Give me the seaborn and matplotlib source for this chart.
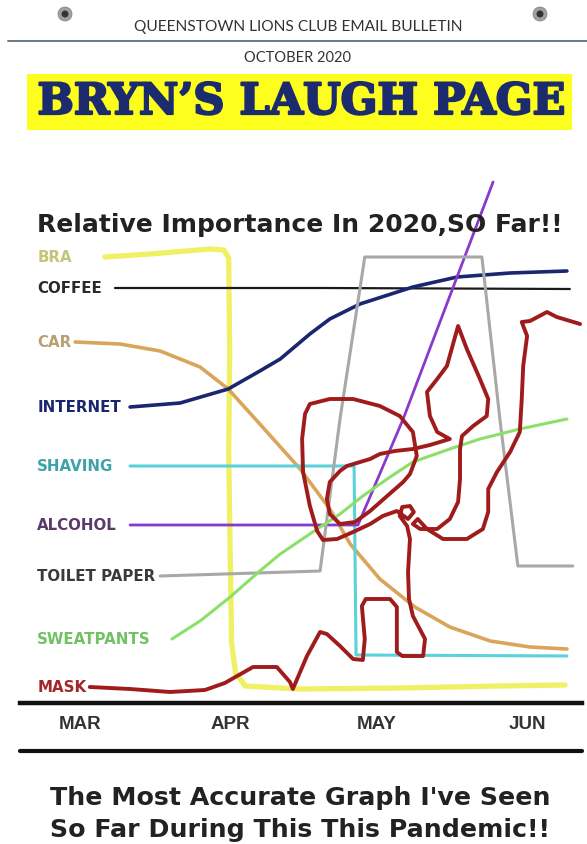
import matplotlib
matplotlib.use("Agg")
import matplotlib.pyplot as plt
import matplotlib.patheffects as pe
import seaborn as sns
from matplotlib.lines import Line2D
from matplotlib.patches import Rectangle, Ellipse

# ---------------- data (x: days since 1 March, y: relative importance) -------------
months = ["MAR", "APR", "MAY", "JUN"]
month_days = [0, 31, 61, 92]

bra_x = [5.1, 14.4, 26.7, 29.6, 30.6, 30.8, 30.6, 30.9, 31.2, 32.0, 34.0, 45.3, 65.8, 86.4, 99.8]
bra_y = [89.2, 89.8, 90.8, 90.6, 89.0, 70.0, 50.0, 30.0, 12.0, 6.0, 3.4, 2.8, 3.0, 3.4, 3.6]

coffee_x = [7.2, 50.0, 100.8]
coffee_y = [83.0, 83.0, 82.8]

car_x = [-1.0, 8.2, 16.5, 24.7, 30.5, 37.0, 45.3, 51.4, 55.6, 61.7, 68.9, 76.1, 84.4, 92.6, 100.2]
car_y = [72.2, 71.8, 70.4, 67.2, 62.8, 55.8, 46.8, 38.8, 31.8, 24.8, 19.2, 15.2, 12.4, 11.2, 10.8]

internet_x = [10.3, 20.6, 30.5, 37.0, 41.2, 47.3, 51.4, 57.6, 68.5, 77.6, 88.5, 100.2]
internet_y = [59.2, 60.0, 62.8, 66.4, 68.8, 73.8, 76.8, 79.8, 83.2, 85.2, 86.0, 86.4]

shaving_x = [10.3, 56.4, 56.8, 100.2]
shaving_y = [47.4, 47.4, 9.6, 9.4]

alcohol_x = [10.3, 57.2, 66.5, 85.0]
alcohol_y = [35.6, 35.6, 56.8, 104.2]

toilet_x = [16.5, 49.4, 53.5, 58.6, 82.7, 86.4, 90.1, 101.4]
toilet_y = [25.4, 26.4, 56.8, 89.2, 89.2, 56.8, 27.4, 27.4]

sweat_x = [18.9, 24.7, 30.9, 37.0, 41.2, 47.9, 53.5, 58.2, 63.8, 68.5, 76.1, 82.3, 90.5, 100.2]
sweat_y = [12.8, 16.4, 21.2, 26.4, 29.8, 34.2, 37.8, 41.4, 45.2, 48.2, 50.8, 52.8, 54.8, 56.8]

mask_x = [2.0, 10.3, 18.5, 25.7, 29.8, 35.6, 40.5, 43.2, 43.8, 46.7, 49.4, 50.8, 53.5, 56.2,
          58.2, 58.6, 58.0, 58.8, 63.8, 65.2, 65.2, 66.3, 70.6, 71.0, 68.5, 67.7, 67.5, 67.9,
          67.3, 65.8, 66.3, 67.9, 68.7, 67.5, 65.2, 62.3, 59.7, 56.2, 52.9, 50.0, 48.8, 47.3,
          45.9, 45.7, 46.3, 47.3, 51.4, 56.2, 61.7, 65.8, 68.5, 69.3, 67.9, 66.5, 63.2, 59.7,
          56.6, 53.5, 51.4, 50.8, 51.4, 53.5, 54.9, 59.7, 61.7, 64.8, 68.5, 72.0, 76.1, 73.5,
          72.0, 71.4, 73.5, 75.5, 77.8, 79.6, 82.3, 84.0, 83.7, 80.9, 78.6, 78.2, 78.2, 77.8,
          76.1, 73.5, 70.0, 68.5, 69.5, 71.4, 74.7, 79.6, 82.9, 84.0, 84.0, 85.8, 88.5, 90.5,
          90.9, 91.2, 92.0, 90.9, 92.6, 96.1, 98.1, 102.9]
mask_y = [3.2, 2.8, 2.2, 2.6, 4.0, 7.2, 7.2, 4.2, 2.8, 9.4, 14.2, 13.8, 11.4, 8.8,
          8.6, 12.8, 19.4, 20.8, 20.8, 19.2, 10.2, 9.4, 9.4, 12.8, 17.4, 20.8, 26.2, 32.8,
          35.4, 37.4, 39.2, 39.4, 38.2, 36.8, 38.4, 37.4, 35.8, 34.2, 32.8, 32.6, 34.4, 39.4,
          46.2, 52.8, 57.8, 59.8, 60.8, 60.8, 59.4, 57.4, 54.2, 49.4, 45.8, 44.2, 41.4, 38.4,
          36.2, 35.8, 37.8, 40.8, 44.2, 46.4, 47.4, 48.8, 49.8, 50.4, 50.8, 51.6, 52.8, 54.2,
          57.4, 62.2, 64.8, 67.4, 75.4, 70.8, 64.8, 60.8, 57.4, 55.4, 53.4, 50.8, 44.8, 40.2,
          36.8, 34.8, 34.8, 35.8, 36.8, 34.8, 32.8, 32.8, 34.8, 38.2, 42.8, 46.2, 50.2, 54.2,
          60.8, 67.4, 73.4, 76.2, 76.4, 78.2, 77.2, 75.8]

series = [
    # name, xs, ys, line colour, label colour, line width, z
    ("BRA", bra_x, bra_y, "#f0f064", "#c4c47a", 3.8, 2),
    ("COFFEE", coffee_x, coffee_y, "#1a1a1a", "#2a2a2a", 1.6, 3),
    ("CAR", car_x, car_y, "#d9a55a", "#b8a070", 2.6, 3),
    ("INTERNET", internet_x, internet_y, "#1c2670", "#1c2670", 2.6, 3),
    ("SHAVING", shaving_x, shaving_y, "#5ad2da", "#3ea2aa", 2.2, 3),
    ("ALCOHOL", alcohol_x, alcohol_y, "#8a3acb", "#5a3a6a", 2.0, 3),
    ("TOILET PAPER", toilet_x, toilet_y, "#a8a8a8", "#3a3a3a", 2.2, 3),
    ("SWEATPANTS", sweat_x, sweat_y, "#8be06a", "#70c262", 2.2, 3),
    ("MASK", mask_x, mask_y, "#a01c1c", "#a02828", 2.8, 4),
]

# ---------------- figure ----------------
sns.set_theme(style="white")
plt.rcParams["font.family"] = ["Liberation Sans", "DejaVu Sans"]

W, H = 587, 845
fig = plt.figure(figsize=(W / 100, H / 100), dpi=100)
fig.patch.set_facecolor("white")

def fx(px):
    return px / W

def fy(py):
    return 1 - py / H

# header
fig.text(fx(298), fy(27), "QUEENSTOWN LIONS CLUB EMAIL BULLETIN", ha="center", va="center",
         fontsize=11.2, color="#333333", family=["Lato", "DejaVu Sans"])
for lx in (65, 540):
    fig.add_artist(Ellipse((fx(lx), fy(15)), 14 / W, 14 / H, facecolor="#a0a0a0", edgecolor="#808080", lw=0.5))
    fig.add_artist(Ellipse((fx(lx), fy(15)), 7 / W, 7 / H, facecolor="#333333", edgecolor="none"))
fig.add_artist(Line2D([fx(8), fx(587)], [fy(42), fy(42)], color="#6a7888", lw=1.4))
fig.text(fx(298), fy(58), "OCTOBER 2020", ha="center", va="center",
         fontsize=10.5, color="#333333", family=["Lato", "DejaVu Sans"])
fig.add_artist(Rectangle((fx(27), fy(131)), fx(572) - fx(27), fy(75) - fy(131),
                         facecolor="#fdfd1e", edgecolor="none"))
fig.text(fx(301), fy(103), "BRYN\u2019S LAUGH PAGE", ha="center", va="center",
         fontsize=31, fontweight="heavy", color="#1c2a6e", family=["DejaVu Serif"],
         path_effects=[pe.withStroke(linewidth=1.6, foreground="#1c2a6e")])

# chart title
fig.text(fx(37), fy(225), "Relative Importance In 2020,SO Far!!", ha="left", va="center",
         fontsize=18, fontweight="bold", color="#222222", family=["DejaVu Sans"])

# main axes
ax = fig.add_axes([fx(20), fy(704), fx(582) - fx(20), fy(180) - fy(704)])
ax.set_facecolor("none")
ax.set_xlim(-12.35, 103.3)
ax.set_ylim(0, 104.8)

for name, xs, ys, lc, tc, lw, z in series:
    sns.lineplot(x=xs, y=ys, ax=ax, sort=False, estimator=None, color=lc,
                 linewidth=lw, zorder=z, solid_capstyle="round", solid_joinstyle="round")
    ax.text(-8.8, ys[0], name, ha="left", va="center", fontsize=10.8,
            fontweight="bold", color=tc, zorder=5, family=["DejaVu Sans"])

for s in ("left", "right", "top"):
    ax.spines[s].set_visible(False)
ax.spines["bottom"].set_color("#111111")
ax.spines["bottom"].set_linewidth(3.2)
ax.set_yticks([])
ax.set_xticks(month_days)
ax.set_xticklabels(months, fontsize=13.5, fontweight="bold", color="#333333")
ax.tick_params(axis="x", length=0, pad=9)
ax.set_xlabel("")
ax.set_ylabel("")
ax.grid(False)

fig.add_artist(Line2D([fx(20), fx(582)], [fy(752), fy(752)], color="#111111", lw=3.0))

# footer
fig.text(fx(300), fy(798), "The Most Accurate Graph I've Seen", ha="center", va="center",
         fontsize=18.2, fontweight="bold", color="#222222", family=["DejaVu Sans"])
fig.text(fx(300), fy(830), "So Far During This This Pandemic!!", ha="center", va="center",
         fontsize=18.2, fontweight="bold", color="#222222", family=["DejaVu Sans"])

fig.savefig("out.png", dpi=100)
